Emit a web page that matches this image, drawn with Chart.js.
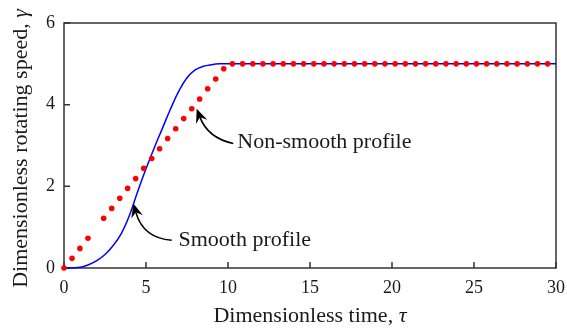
<!DOCTYPE html>
<html lang="en">
<head>
    <meta charset="UTF-8">
    <title>Dimensionless rotating speed</title>
    <script src="https://cdn.jsdelivr.net/npm/chart.js"></script>
    <style>
        body {
            margin: 0;
            padding: 0;
            background: #ffffff;
        }
        .wrap {
            width: 567px;
            height: 328px;
        }
    </style>
</head>
<body>
    <div class="wrap">
        <canvas id="chart" width="567" height="328"></canvas>
    </div>

    <script>
        // Smooth profile (blue line)
        const tauSmooth = [0, 0.5, 1, 1.5, 2, 2.5, 3, 3.5, 4, 4.5, 5, 5.5, 6, 6.5, 7, 7.5, 8, 8.5, 9, 9.5, 10, 30];
        const gammaSmooth = [0, 0.005, 0.02, 0.08, 0.18, 0.33, 0.55, 0.85, 1.3, 1.88, 2.43, 2.94, 3.42, 3.9, 4.33, 4.66, 4.85, 4.94, 4.98, 5.0, 5.0, 5.0];

        // Non-smooth profile (red dots)
        const tauStep = [0, 0.49, 0.97, 1.46, 2.42, 2.91, 3.4, 3.88, 4.37, 4.86, 5.35, 5.83, 6.32, 6.81, 7.3, 7.79, 8.27, 8.76, 9.25, 9.74,
            10.27, 10.89, 11.51, 12.13, 12.75, 13.37, 13.99, 14.61, 15.23, 15.85, 16.47, 17.09, 17.71, 18.33, 18.95, 19.57,
            20.19, 20.81, 21.43, 22.05, 22.67, 23.29, 23.91, 24.53, 25.15, 25.77, 26.39, 27.01, 27.63, 28.25, 28.87, 29.49];
        const gammaStep = [0, 0.24, 0.48, 0.73, 1.22, 1.46, 1.71, 1.95, 2.19, 2.44, 2.68, 2.92, 3.17, 3.41, 3.66, 3.9, 4.14, 4.39, 4.63, 4.88,
            5, 5, 5, 5, 5, 5, 5, 5, 5, 5, 5, 5, 5, 5, 5, 5,
            5, 5, 5, 5, 5, 5, 5, 5, 5, 5, 5, 5, 5, 5, 5, 5];

        const xTicks = [0, 5, 10, 15, 20, 25, 30];
        const yTicks = [0, 2, 4, 6];

        const xTitle = ['Dimensionless time, ', 'τ'];
        const yTitle = ['Dimensionless rotating speed, ', 'γ'];

        // labels with arrows, in data units: text anchor, arrow tail, bend, tip
        const notes = [
            { text: 'Non-smooth profile', at: [10.57, 3.08], tail: [10.32, 3.05], bend: [8.78, 3.18], tip: [8.09, 3.9] },
            { text: 'Smooth profile', at: [6.98, 0.67], tail: [6.57, 0.68], bend: [4.82, 0.73], tip: [4.23, 1.58] }
        ];

        const SERIF = "'Liberation Serif', 'DejaVu Serif', serif";
        const INK = '#1a1a1a';

        function drawMixed(ctx, parts, size) {
            // parts[0] upright, parts[1] italic; centred on current origin
            ctx.font = size + 'px ' + SERIF;
            const w0 = ctx.measureText(parts[0]).width;
            ctx.font = 'italic ' + size + 'px ' + SERIF;
            const w1 = ctx.measureText(parts[1]).width;
            let x = -(w0 + w1) / 2;
            ctx.textAlign = 'left';
            ctx.textBaseline = 'middle';
            ctx.font = size + 'px ' + SERIF;
            ctx.fillText(parts[0], x, 0);
            ctx.font = 'italic ' + size + 'px ' + SERIF;
            ctx.fillText(parts[1], x + w0, 0);
        }

        function arrowHead(ctx, tx, ty, ang) {
            const len = 14, half = 6, notch = 9;
            const c = Math.cos(ang), s = Math.sin(ang);
            ctx.beginPath();
            ctx.moveTo(tx, ty);
            ctx.lineTo(tx - len * c + half * s, ty - len * s - half * c);
            ctx.lineTo(tx - notch * c, ty - notch * s);
            ctx.lineTo(tx - len * c - half * s, ty - len * s + half * c);
            ctx.closePath();
            ctx.fill();
        }

        const framePlugin = {
            id: 'frame',
            beforeDatasetsDraw(chart) {
                const ctx = chart.ctx;
                const a = chart.chartArea;
                const xs = chart.scales.x, ys = chart.scales.y;
                ctx.save();

                // frame + inward ticks
                ctx.strokeStyle = '#333';
                ctx.lineWidth = 1.5;
                ctx.strokeRect(a.left, a.top, a.right - a.left, a.bottom - a.top);
                ctx.beginPath();
                xTicks.forEach(v => {
                    const px = xs.getPixelForValue(v);
                    ctx.moveTo(px, a.bottom);
                    ctx.lineTo(px, a.bottom - 6);
                });
                yTicks.forEach(v => {
                    const py = ys.getPixelForValue(v);
                    ctx.moveTo(a.left, py);
                    ctx.lineTo(a.left + 6, py);
                });
                ctx.stroke();
                ctx.restore();
            },
            afterDraw(chart) {
                const ctx = chart.ctx;
                const a = chart.chartArea;
                const xs = chart.scales.x, ys = chart.scales.y;
                ctx.save();

                // annotations
                ctx.strokeStyle = '#000';
                notes.forEach(n => {
                    const P = p => [xs.getPixelForValue(p[0]), ys.getPixelForValue(p[1])];
                    const t0 = P(n.tail), b = P(n.bend), tp = P(n.tip);
                    const ang = Math.atan2(tp[1] - b[1], tp[0] - b[0]);
                    const end = [tp[0] - 9 * Math.cos(ang), tp[1] - 9 * Math.sin(ang)];
                    ctx.lineWidth = 1.6;
                    ctx.beginPath();
                    ctx.moveTo(t0[0], t0[1]);
                    ctx.quadraticCurveTo(b[0], b[1], end[0], end[1]);
                    ctx.stroke();
                    ctx.fillStyle = '#000';
                    arrowHead(ctx, tp[0], tp[1], ang);
                    const at = P(n.at);
                    ctx.fillStyle = INK;
                    ctx.font = '22px ' + SERIF;
                    ctx.textAlign = 'left';
                    ctx.textBaseline = 'middle';
                    ctx.fillText(n.text, at[0], at[1]);
                });

                // axis titles
                ctx.fillStyle = INK;
                ctx.save();
                ctx.translate((a.left + a.right) / 2, 316);
                drawMixed(ctx, xTitle, 22);
                ctx.restore();
                ctx.save();
                ctx.translate(21, (a.top + a.bottom) / 2 + 3);
                ctx.rotate(-Math.PI / 2);
                drawMixed(ctx, yTitle, 22);
                ctx.restore();

                ctx.restore();
            }
        };

        const ctx = document.getElementById('chart').getContext('2d');
        const chart = new Chart(ctx, {
            type: 'scatter',
            data: {
                datasets: [
                    {
                        label: 'Non-smooth profile',
                        data: tauStep.map((t, i) => ({ x: t, y: gammaStep[i] })),
                        showLine: false,
                        pointRadius: 2.8,
                        pointBackgroundColor: '#ff0000',
                        pointBorderWidth: 0,
                        clip: false,
                        order: 0
                    },
                    {
                        label: 'Smooth profile',
                        data: tauSmooth.map((t, i) => ({ x: t, y: gammaSmooth[i] })),
                        showLine: true,
                        borderColor: '#0000ff',
                        borderWidth: 1.5,
                        pointRadius: 0,
                        tension: 0.4,
                        clip: false,
                        order: 1
                    }
                ]
            },
            options: {
                responsive: false,
                animation: false,
                layout: {
                    padding: { top: 23, right: 11, left: 0, bottom: 0 }
                },
                plugins: {
                    legend: { display: false },
                    tooltip: { enabled: false }
                },
                scales: {
                    x: {
                        type: 'linear',
                        min: 0,
                        max: 30,
                        afterFit: s => { s.height = 60; s.paddingLeft = 0; s.paddingRight = 0; },
                        afterBuildTicks: s => { s.ticks = xTicks.map(v => ({ value: v })); },
                        grid: { display: false, drawTicks: false },
                        border: { display: false },
                        ticks: {
                            padding: 9,
                            color: INK,
                            maxRotation: 0,
                            font: { size: 18, family: SERIF }
                        }
                    },
                    y: {
                        type: 'linear',
                        min: 0,
                        max: 6,
                        afterFit: s => { s.width = 64; s.paddingTop = 0; s.paddingBottom = 0; },
                        afterBuildTicks: s => { s.ticks = yTicks.map(v => ({ value: v })); },
                        grid: { display: false, drawTicks: false },
                        border: { display: false },
                        ticks: {
                            padding: 9,
                            color: INK,
                            font: { size: 18, family: SERIF }
                        }
                    }
                }
            },
            plugins: [framePlugin]
        });
    </script>
</body>
</html>
